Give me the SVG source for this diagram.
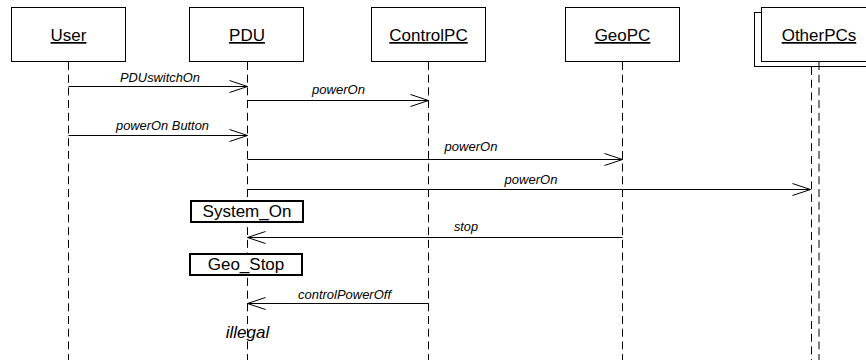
<svg xmlns="http://www.w3.org/2000/svg" width="866" height="360" viewBox="0 0 866 360">
<style>
.box{fill:#fff;stroke:#000;stroke-width:1}
.sbox{fill:#fff;stroke:#000;stroke-width:2}
.life{stroke:#000;stroke-width:1;stroke-dasharray:8 4.7;fill:none}
.hdr{font-family:"Liberation Sans",Arial,sans-serif;font-size:17px;text-anchor:middle;text-decoration:underline}
.msg{stroke:#000;stroke-width:1;fill:none}
.lbl{font-family:"Liberation Sans",Arial,sans-serif;font-size:12px;font-style:italic;text-anchor:middle}
.st{font-family:"Liberation Sans",Arial,sans-serif;font-size:17px;text-anchor:middle}
.head{stroke:#000;stroke-width:1;fill:none}
</style>
<rect width="866" height="360" fill="#fff"/>
<g id="User">
<rect class="box" x="11.5" y="7.5" width="114" height="54"/>
<text class="hdr" x="68.5" y="41">User</text>
<line class="life" x1="68.5" y1="62" x2="68.5" y2="360"/>
</g>
<g id="PDU">
<rect class="box" x="189.5" y="7.5" width="114" height="54"/>
<text class="hdr" x="247" y="41">PDU</text>
<line class="life" x1="247.5" y1="62" x2="247.5" y2="360"/>
</g>
<g id="ControlPC">
<rect class="box" x="371.5" y="7.5" width="114" height="54"/>
<text class="hdr" x="428.5" y="41">ControlPC</text>
<line class="life" x1="428.5" y1="62" x2="428.5" y2="360"/>
</g>
<g id="GeoPC">
<rect class="box" x="565.5" y="7.5" width="114" height="54"/>
<text class="hdr" x="622.5" y="41">GeoPC</text>
<line class="life" x1="622.5" y1="62" x2="622.5" y2="360"/>
</g>
<g id="OtherPCs">
<rect class="box" x="754.5" y="12.5" width="114" height="54"/>
<line class="life" x1="811.5" y1="67" x2="811.5" y2="360"/>
<rect class="box" x="761.5" y="7.5" width="114" height="54"/>
<text class="hdr" x="819" y="41">OtherPCs</text>
<line class="life" x1="819" y1="62" x2="819" y2="360"/>
</g>
<g id="System_On">
<rect class="sbox" x="191" y="201" width="112" height="21"/>
<text class="st" x="247" y="217">System_On</text>
</g>
<g id="Geo_Stop">
<rect class="sbox" x="190" y="254" width="112" height="21"/>
<text class="st" x="246" y="270">Geo_Stop</text>
</g>
<g id="connectors">
<line class="msg" x1="68.5" y1="86.5" x2="247.5" y2="86.5"/>
<polyline class="head" points="229.5,80.5 247.5,86.5 229.5,92.5"/>
<line class="msg" x1="247.5" y1="100.5" x2="428.5" y2="100.5"/>
<polyline class="head" points="410.5,94.5 428.5,100.5 410.5,106.5"/>
<line class="msg" x1="68.5" y1="135.5" x2="247.5" y2="135.5"/>
<polyline class="head" points="229.5,129.5 247.5,135.5 229.5,141.5"/>
<line class="msg" x1="247.5" y1="159.5" x2="622.5" y2="159.5"/>
<polyline class="head" points="604.5,153.5 622.5,159.5 604.5,165.5"/>
<line class="msg" x1="247.5" y1="189.5" x2="810.5" y2="189.5"/>
<polyline class="head" points="792.5,183.5 810.5,189.5 792.5,195.5"/>
<line class="msg" x1="622.5" y1="237.5" x2="247.5" y2="237.5"/>
<polyline class="head" points="265.5,231.5 247.5,237.5 265.5,243.5"/>
<line class="msg" x1="428.5" y1="303.5" x2="247.5" y2="303.5"/>
<polyline class="head" points="265.5,297.5 247.5,303.5 265.5,309.5"/>
</g>
<g id="labels">
<text class="lbl" x="160" y="82" textLength="80" lengthAdjust="spacingAndGlyphs">PDUswitchOn</text>
<text class="lbl" x="338.5" y="93.5" textLength="53" lengthAdjust="spacingAndGlyphs">powerOn</text>
<text class="lbl" x="162.5" y="129.5" textLength="93" lengthAdjust="spacingAndGlyphs">powerOn Button</text>
<text class="lbl" x="471" y="150.5" textLength="53" lengthAdjust="spacingAndGlyphs">powerOn</text>
<text class="lbl" x="531" y="184" textLength="53" lengthAdjust="spacingAndGlyphs">powerOn</text>
<text class="lbl" x="466" y="231" textLength="24" lengthAdjust="spacingAndGlyphs">stop</text>
<text class="lbl" x="344.5" y="299" textLength="93" lengthAdjust="spacingAndGlyphs">controlPowerOff</text>
<text x="247.5" y="338" style="font-family:'Liberation Sans',Arial,sans-serif;font-size:17px;font-style:italic;text-anchor:middle">illegal</text>
</g>
</svg>
